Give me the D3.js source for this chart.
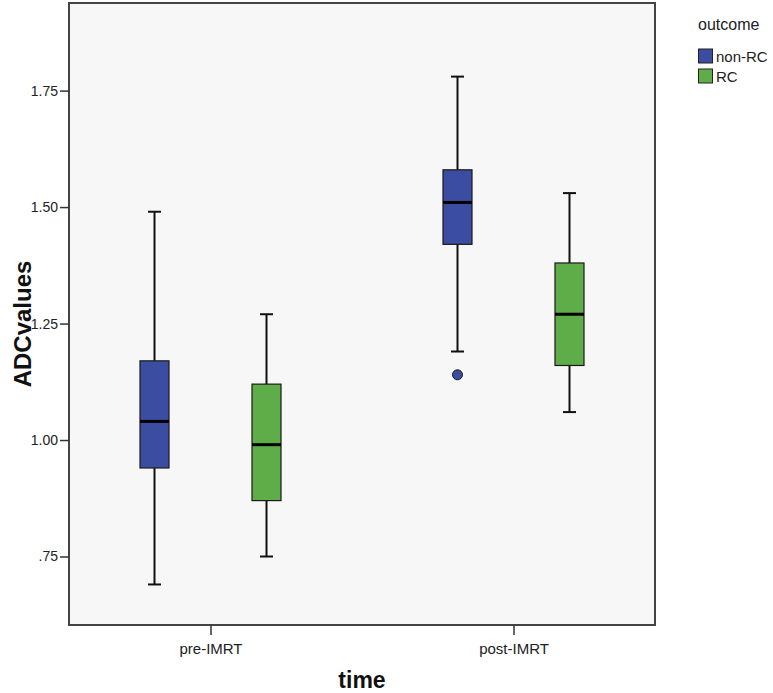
<!DOCTYPE html>
<html>
<head>
<meta charset="utf-8">
<script src="https://cdn.jsdelivr.net/npm/d3@7"></script>
<style>
  html, body { margin: 0; padding: 0; background: #ffffff; }
  svg { display: block; }
</style>
</head>
<body>
<svg id="chart" width="773" height="693"></svg>
<script>
// ---- data ----
const categories = ["pre-IMRT", "post-IMRT"];
const series = ["non-RC", "RC"];
const seriesColors = ["#3B4DA0", "#5FAD48"];
// [lowerWhisker, Q1, median, Q3, upperWhisker] per series per category
const nonRCStats = [[0.69, 0.94, 1.04, 1.17, 1.49], [1.19, 1.42, 1.51, 1.58, 1.78]];
const rcStats    = [[0.75, 0.87, 0.99, 1.12, 1.27], [1.06, 1.16, 1.27, 1.38, 1.53]];
const nonRCOutliers = [[], [1.14]];
const rcOutliers    = [[], []];
const yTicks = [0.75, 1.00, 1.25, 1.50, 1.75];
const yTickLabels = [".75", "1.00", "1.25", "1.50", "1.75"];
const yDomain = [0.603, 1.938];
const xTitle = "time";
const yTitle = "ADCvalues";
const legendTitle = "outcome";

const statsBySeries = [nonRCStats, rcStats];
const outliersBySeries = [nonRCOutliers, rcOutliers];

// ---- layout ----
const svg = d3.select("#chart");
const frame = { left: 69, right: 655, top: 3, bottom: 625 };
const FONT = "Liberation Sans, Arial, sans-serif";

const x = d3.scalePoint().domain(categories).range([frame.left, frame.right]).padding(0.467);
const xOff = d3.scalePoint().domain(series).range([-56, 56]);
const y = d3.scaleLinear().domain(yDomain).range([frame.bottom, frame.top]);
const boxW = 29, capW = 13;

// plot background + frame
svg.append("rect")
  .attr("x", frame.left).attr("y", frame.top)
  .attr("width", frame.right - frame.left).attr("height", frame.bottom - frame.top)
  .attr("fill", "#F6F7F6").attr("stroke", "#444444").attr("stroke-width", 2);

// y axis
const yAxis = d3.axisLeft(y).tickValues(yTicks).tickSize(9).tickPadding(2)
  .tickFormat((d, i) => yTickLabels[i]);
const gy = svg.append("g").attr("transform", `translate(${frame.left},0)`).call(yAxis);
gy.select(".domain").remove();
gy.selectAll(".tick line").attr("stroke", "#333").attr("stroke-width", 1.5);
gy.selectAll(".tick text").attr("font-family", FONT)
  .attr("font-size", 14).attr("fill", "#222");

// x axis
const xAxis = d3.axisBottom(x).tickSize(10).tickPadding(8);
const gx = svg.append("g").attr("transform", `translate(0,${frame.bottom})`).call(xAxis);
gx.select(".domain").remove();
gx.selectAll(".tick line").attr("stroke", "#333").attr("stroke-width", 1.5);
gx.selectAll(".tick text").attr("font-family", FONT)
  .attr("font-size", 15).attr("fill", "#222");

// axis titles
svg.append("text").attr("x", (frame.left + frame.right) / 2).attr("y", 688)
  .attr("text-anchor", "middle").attr("font-family", FONT)
  .attr("font-weight", "bold").attr("font-size", 23).attr("fill", "#111").text(xTitle);
svg.append("text").attr("transform", `translate(31,${(frame.top + frame.bottom) / 2 + 10}) rotate(-90)`)
  .attr("text-anchor", "middle").attr("font-family", FONT)
  .attr("font-weight", "bold").attr("font-size", 24).attr("fill", "#111").text(yTitle);

// boxes
series.forEach((s, si) => {
  const g = svg.append("g").attr("class", "series-" + si);
  categories.forEach((c, ci) => {
    const st = statsBySeries[si][ci];
    const cx = x(c) + xOff(s);
    // whiskers
    g.append("line").attr("x1", cx).attr("x2", cx).attr("y1", y(st[0])).attr("y2", y(st[1]))
      .attr("stroke", "#111").attr("stroke-width", 2);
    g.append("line").attr("x1", cx).attr("x2", cx).attr("y1", y(st[3])).attr("y2", y(st[4]))
      .attr("stroke", "#111").attr("stroke-width", 2);
    // caps
    [st[0], st[4]].forEach(v => {
      g.append("line").attr("x1", cx - capW / 2).attr("x2", cx + capW / 2)
        .attr("y1", y(v)).attr("y2", y(v)).attr("stroke", "#111").attr("stroke-width", 2);
    });
    // box
    g.append("rect").attr("x", cx - boxW / 2).attr("y", y(st[3]))
      .attr("width", boxW).attr("height", y(st[1]) - y(st[3]))
      .attr("fill", seriesColors[si]).attr("stroke", "#1a1a1a").attr("stroke-width", 1.2);
    // median
    g.append("line").attr("x1", cx - boxW / 2).attr("x2", cx + boxW / 2)
      .attr("y1", y(st[2])).attr("y2", y(st[2])).attr("stroke", "#000").attr("stroke-width", 3);
    // outliers
    outliersBySeries[si][ci].forEach(v => {
      g.append("circle").attr("cx", cx).attr("cy", y(v)).attr("r", 5)
        .attr("fill", seriesColors[si]).attr("stroke", "#1a1a1a").attr("stroke-width", 1);
    });
  });
});

// legend
const lg = svg.append("g").attr("transform", "translate(698,0)");
lg.append("text").attr("x", 0).attr("y", 30).attr("font-family", FONT)
  .attr("font-size", 16).attr("fill", "#222").text(legendTitle);
series.forEach((s, i) => {
  lg.append("rect").attr("x", 0.5).attr("y", 49 + i * 20).attr("width", 14).attr("height", 14)
    .attr("fill", seriesColors[i]).attr("stroke", "#222").attr("stroke-width", 1);
  lg.append("text").attr("x", 18).attr("y", 62 + i * 20)
    .attr("font-family", FONT).attr("font-size", 15)
    .attr("fill", "#222").text(s);
});
</script>
</body>
</html>
